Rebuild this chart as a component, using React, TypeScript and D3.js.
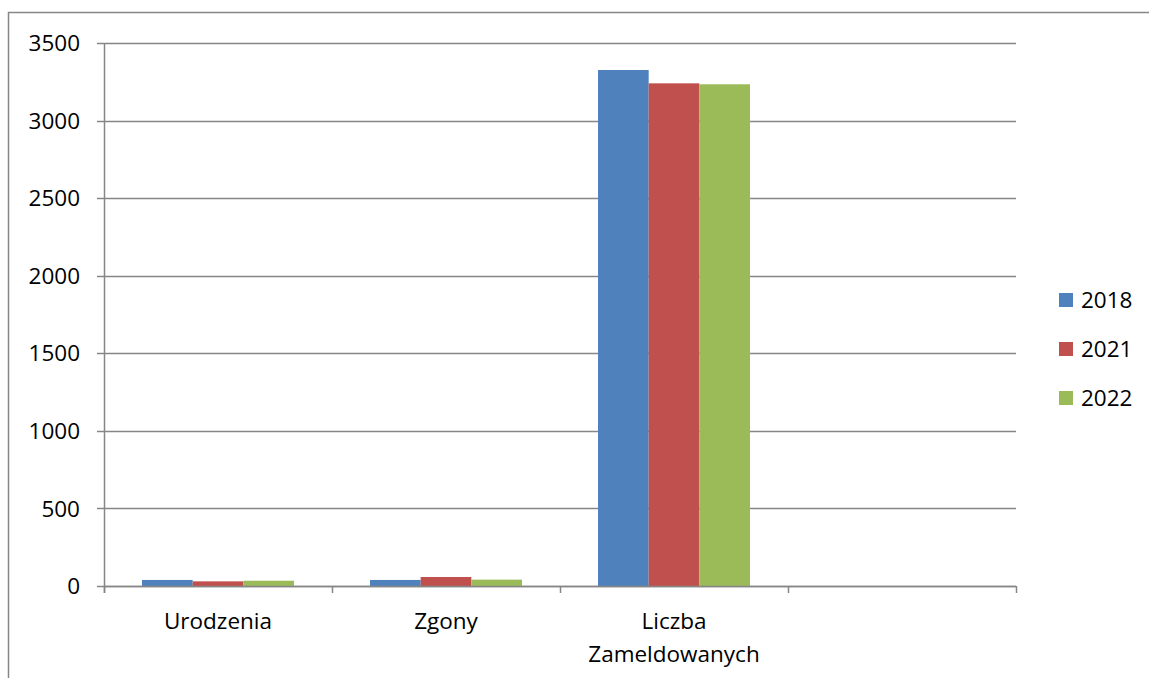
import { useEffect, useRef } from "react";
import * as d3 from "d3";

const categories = ["Urodzenia", "Zgony", "Liczba\nZameldowanych", ""];
const seriesNames = ["2018", "2021", "2022"];
const values2018 = [39, 39, 3326];
const values2021 = [30, 58, 3240];
const values2022 = [34, 41, 3234];
const yTicks = [0, 500, 1000, 1500, 2000, 2500, 3000, 3500];
const colors = ["#4F81BD", "#C0504D", "#9BBB59"];

export default function App() {
  const svgRef = useRef<SVGSVGElement>(null);

  useEffect(() => {
    const svgEl = svgRef.current;
    if (!svgEl) return;
    const width = 1149;
    const height = 678;
    const margin = { top: 43, left: 104, right: 133, bottom: 92 };
    const innerW = width - margin.left - margin.right;
    const innerH = height - margin.top - margin.bottom;
    const font = "'Open Sans', sans-serif";
    const fs = 22.5;

    const svg = d3.select(svgEl);
    svg.selectAll("*").remove();

    // outer frame (no right/bottom edge visible)
    svg
      .append("path")
      .attr("d", `M8.5,${height}V12.5H${width}`)
      .attr("fill", "none")
      .attr("stroke", "#868686")
      .attr("stroke-width", 1.5);

    const g = svg
      .append("g")
      .attr("transform", `translate(${margin.left},${margin.top})`);

    const x0 = d3.scaleBand().domain(categories).range([0, innerW]);
    const x1 = d3
      .scaleBand()
      .domain(seriesNames)
      .range([x0.bandwidth() / 6, (x0.bandwidth() * 5) / 6]);
    const y = d3.scaleLinear().domain([0, 3500]).range([innerH, 0]);

    // gridlines + y ticks
    g.selectAll(".grid")
      .data(yTicks)
      .join("line")
      .attr("x1", -7)
      .attr("x2", innerW)
      .attr("y1", (d) => Math.round(y(d)) + 0.5)
      .attr("y2", (d) => Math.round(y(d)) + 0.5)
      .attr("stroke", "#868686")
      .attr("stroke-width", 1.4);

    g.selectAll(".ylab")
      .data(yTicks)
      .join("text")
      .attr("x", -24)
      .attr("y", (d) => y(d))
      .attr("dy", "0.36em")
      .attr("text-anchor", "end")
      .attr("font-family", font)
      .attr("font-size", fs)
      .attr("fill", "#000")
      .text((d) => d);

    const allSeries = [values2018, values2021, values2022];
    const bars = categories.slice(0, 3).flatMap((c, ci) =>
      seriesNames.map((s, si) => ({ c, s, si, v: allSeries[si][ci] }))
    );

    g.selectAll(".bar")
      .data(bars)
      .join("rect")
      .attr("x", (d) => (x0(d.c) ?? 0) + (x1(d.s) ?? 0))
      .attr("y", (d) => y(d.v))
      .attr("width", x1.bandwidth())
      .attr("height", (d) => innerH - y(d.v))
      .attr("fill", (d) => colors[d.si]);

    // axes lines
    g.append("line")
      .attr("x1", 0.5)
      .attr("x2", 0.5)
      .attr("y1", 0)
      .attr("y2", innerH + 7)
      .attr("stroke", "#868686")
      .attr("stroke-width", 1.5);
    g.append("line")
      .attr("x1", 0)
      .attr("x2", innerW)
      .attr("y1", innerH + 0.5)
      .attr("y2", innerH + 0.5)
      .attr("stroke", "#868686")
      .attr("stroke-width", 1.5);

    const bounds = categories.map((c) => x0(c) ?? 0).concat([innerW]);
    g.selectAll(".xtick")
      .data(bounds)
      .join("line")
      .attr("x1", (d) => Math.round(d) + 0.5)
      .attr("x2", (d) => Math.round(d) + 0.5)
      .attr("y1", innerH)
      .attr("y2", innerH + 7)
      .attr("stroke", "#868686")
      .attr("stroke-width", 1.5);

    g.selectAll(".xlab")
      .data(categories)
      .join("text")
      .attr("text-anchor", "middle")
      .attr("font-family", font)
      .attr("font-size", fs)
      .attr("fill", "#000")
      .each(function (d) {
        const t = d3.select(this);
        d.split("\n").forEach((line, i) => {
          t.append("tspan")
            .attr("x", (x0(d) ?? 0) + x0.bandwidth() / 2)
            .attr("y", innerH + 43 + i * 33)
            .text(line);
        });
      });

    // legend
    const legend = svg
      .append("g")
      .selectAll("g")
      .data(seriesNames)
      .join("g")
      .attr("transform", (_, i) => `translate(1059,${300 + i * 49})`);
    legend
      .append("rect")
      .attr("x", 0)
      .attr("y", -7)
      .attr("width", 14)
      .attr("height", 14)
      .attr("fill", (_, i) => colors[i]);
    legend
      .append("text")
      .attr("x", 22)
      .attr("y", 0)
      .attr("dy", "0.36em")
      .attr("font-family", font)
      .attr("font-size", fs)
      .attr("fill", "#000")
      .text((d) => d);
  }, []);

  return (
    <svg
      ref={svgRef}
      width={1149}
      height={678}
      style={{ position: "absolute", left: 0, top: 0, display: "block" }}
    />
  );
}
